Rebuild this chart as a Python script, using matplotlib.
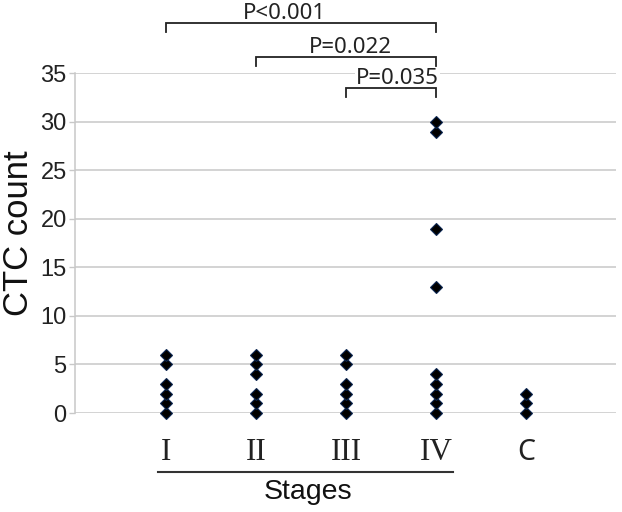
import matplotlib
matplotlib.use("Agg")
import matplotlib.pyplot as plt
from matplotlib.lines import Line2D
import matplotlib.transforms as mtransforms

categories = ["I", "II", "III", "IV", "C"]
stage_I = [0, 1, 2, 3, 5, 6]
stage_II = [0, 1, 2, 4, 5, 6]
stage_III = [0, 1, 2, 3, 5, 6]
stage_IV = [0, 1, 2, 3, 4, 13, 19, 29, 30]
control_C = [0, 1, 2]
series = [stage_I, stage_II, stage_III, stage_IV, control_C]
y_ticks = [0, 5, 10, 15, 20, 25, 30, 35]

# significance comparisons: (from category index, to category index, label)
comparisons = [(1, 4, "P<0.001"), (2, 4, "P=0.022"), (3, 4, "P=0.035")]
bracket_levels = [40.17, 36.66, 33.47]
label_x = [2.31, 3.05, 3.57]

W, H = 622, 512
fig = plt.figure(figsize=(W / 100, H / 100), dpi=100)
ax = fig.add_axes([75 / W, (H - 413) / H, 541 / W, (413 - 73.3) / H])

xs = list(range(1, len(categories) + 1))
for x, vals in zip(xs, series):
    ax.plot([x] * len(vals), vals, linestyle="none", marker="D", markersize=6.6,
            markerfacecolor="black", markeredgecolor="#0b2550", markeredgewidth=0.8,
            clip_on=False, zorder=3)

ax.set_xlim(-0.015, 6)
ax.set_ylim(0, 35)
ax.set_yticks(y_ticks)
ax.set_yticklabels([str(t) for t in y_ticks], fontfamily="Liberation Sans", fontsize=17, color="#222222")
ax.tick_params(axis="y", length=4, width=1, color="#c8c8c8", pad=2)
ax.grid(axis="y", color="#c8c8c8", linewidth=1.1)
ax.set_axisbelow(True)
for s in ["top", "right", "bottom"]:
    ax.spines[s].set_visible(False)
ax.spines["left"].set_color("#c8c8c8")
ax.spines["left"].set_linewidth(1.1)

ax.set_xticks(xs)
ax.set_xticklabels(categories, fontsize=22.5, color="#222222")
for lbl in ax.get_xticklabels():
    if lbl.get_text() == "C":
        lbl.set_fontfamily("Noto Sans")
        lbl.set_fontsize(20.5)
    else:
        lbl.set_fontfamily("Liberation Serif")
ax.tick_params(axis="x", length=0, pad=18)

# significance brackets
for (a, b, label), lev, lx in zip(comparisons, bracket_levels, label_x):
    ax.plot([a, a, b, b], [lev - 0.95, lev, lev, lev - 0.95], color="#222222",
            linewidth=1.3, clip_on=False, zorder=5, solid_joinstyle="miter")
    ax.text(lx, lev + 0.45, label, ha="center", va="baseline",
            fontfamily="Noto Sans", fontsize=16, color="#222222", zorder=4,
            bbox=dict(facecolor="white", edgecolor="none", pad=0.5))

# stage group underline and label
trans = mtransforms.blended_transform_factory(ax.transData, ax.transAxes)
ax.add_line(Line2D([0.91, 4.19], [-0.174, -0.174], transform=trans, color="#333333",
                   linewidth=1.5, clip_on=False))
ax.text(2.57, -0.233, "Stages", transform=trans, ha="center", va="center",
        fontfamily="Liberation Sans", fontsize=20.5, color="#111111")

fig.text(19 / W, (H - 233) / H, "CTC count", rotation=90, ha="center", va="center",
         fontfamily="Liberation Sans", fontsize=25, color="#111111")

fig.savefig("out.png", dpi=100, facecolor="white")
